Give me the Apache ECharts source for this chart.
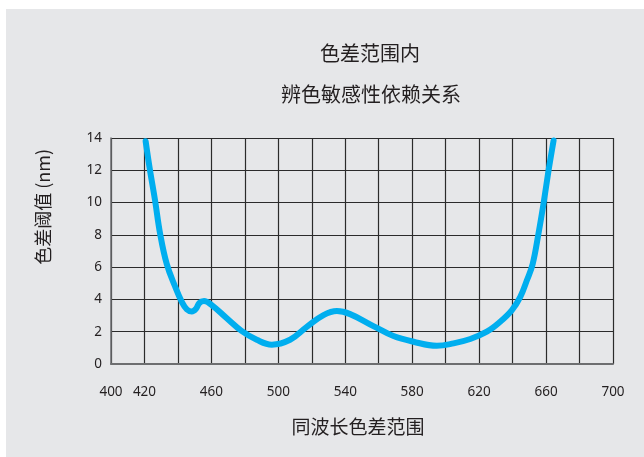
<!DOCTYPE html>
<html>
<head>
<meta charset="utf-8">
<script src="https://cdn.jsdelivr.net/npm/echarts@6/dist/echarts.min.js"></script>
<style>
  html, body { margin: 0; padding: 0; background: #ffffff; }
  #chart { position: absolute; left: 6px; top: 9px; width: 638px; height: 448px; background: #e6e7e9; }
</style>
</head>
<body>
<div id="chart"></div>
<script>
// Wavelength (nm) and colour-difference threshold (nm) along the curve
const wavelengths = [420.7, 423.3, 426.3, 429.3, 433.3, 438.3, 442.3, 445.3, 448.3, 450.8, 452.8, 455.6, 460.2, 469.2, 478, 487.1, 496.1, 507, 517, 527, 535, 542.9, 556.8, 568.8, 580.8, 594.7, 604.7, 614.7, 624.6, 632.6, 639.6, 644.6, 648.6, 652, 655.5, 658.5, 661.5, 664.5];
const thresholds  = [13.8, 12.0, 10.15, 8.1, 6.2, 4.8, 3.85, 3.38, 3.25, 3.42, 3.78, 3.9, 3.65, 2.83, 2.05, 1.5, 1.2, 1.5, 2.3, 3.03, 3.28, 3.09, 2.35, 1.73, 1.38, 1.13, 1.28, 1.55, 2.0, 2.62, 3.34, 4.16, 5.2, 6.2, 8.1, 9.95, 12.0, 13.85];

// Labelled wavelength ticks (grid lines every 20 nm)
const xTickLabels = [400, 420, 460, 500, 540, 580, 620, 660, 700];

const titleLines = ['色差范围内', '辨色敏感性依赖关系'];
const xAxisName = '同波长色差范围';
const yAxisName = '色差阈值 (nm)';

const FONT = '"Noto Sans", "Noto Sans CJK SC", sans-serif';
const CJK = '"Noto Sans CJK SC", "Noto Sans", sans-serif';

const chart = echarts.init(document.getElementById('chart'), null, { renderer: 'canvas' });

chart.setOption({
  animation: false,
  backgroundColor: '#e6e7e9',
  title: [
    { text: titleLines[0], left: 359, top: 29, textAlign: 'center',
      textStyle: { fontFamily: CJK, fontSize: 20, fontWeight: 'normal', color: '#231f20' } },
    { text: titleLines[1], left: 360, top: 70, textAlign: 'center',
      textStyle: { fontFamily: CJK, fontSize: 20, fontWeight: 'normal', color: '#231f20' } }
  ],
  graphic: [{
    type: 'text',
    left: 28,
    top: 140,
    rotation: Math.PI / 2,
    style: { text: yAxisName, font: '18px ' + CJK, fill: '#231f20' }
  }],
  grid: { left: 105, right: 31, top: 129, bottom: 93, containLabel: false },
  xAxis: {
    type: 'value',
    min: 400, max: 700, interval: 20,
    name: xAxisName,
    nameLocation: 'middle',
    nameGap: 53,
    nameTextStyle: { fontFamily: CJK, fontSize: 19, color: '#231f20', padding: [0, 8, 0, 0] },
    axisLine: { show: true, lineStyle: { color: '#6d6e70', width: 2 } },
    axisTick: { show: false },
    axisLabel: {
      margin: 21,
      fontFamily: FONT, fontSize: 13.5, color: '#231f20',
      formatter: v => xTickLabels.includes(v) ? String(v) : ''
    },
    splitLine: { show: true, lineStyle: { color: '#2b2b2b', width: 1.2 } }
  },
  yAxis: {
    type: 'value',
    min: 0, max: 14, interval: 2,
    axisLine: { show: true, lineStyle: { color: '#6d6e70', width: 1.5 } },
    axisTick: { show: false },
    axisLabel: { margin: 9, fontFamily: FONT, fontSize: 13.5, color: '#231f20' },
    splitLine: { show: true, lineStyle: { color: '#2b2b2b', width: 1.2 } }
  },
  series: [{
    type: 'line',
    data: wavelengths.map((w, i) => [w, thresholds[i]]),
    smooth: 0.4,
    showSymbol: false,
    lineStyle: { color: '#00aeef', width: 6, cap: 'round', join: 'round' },
    z: 5
  }]
});
</script>
</body>
</html>
